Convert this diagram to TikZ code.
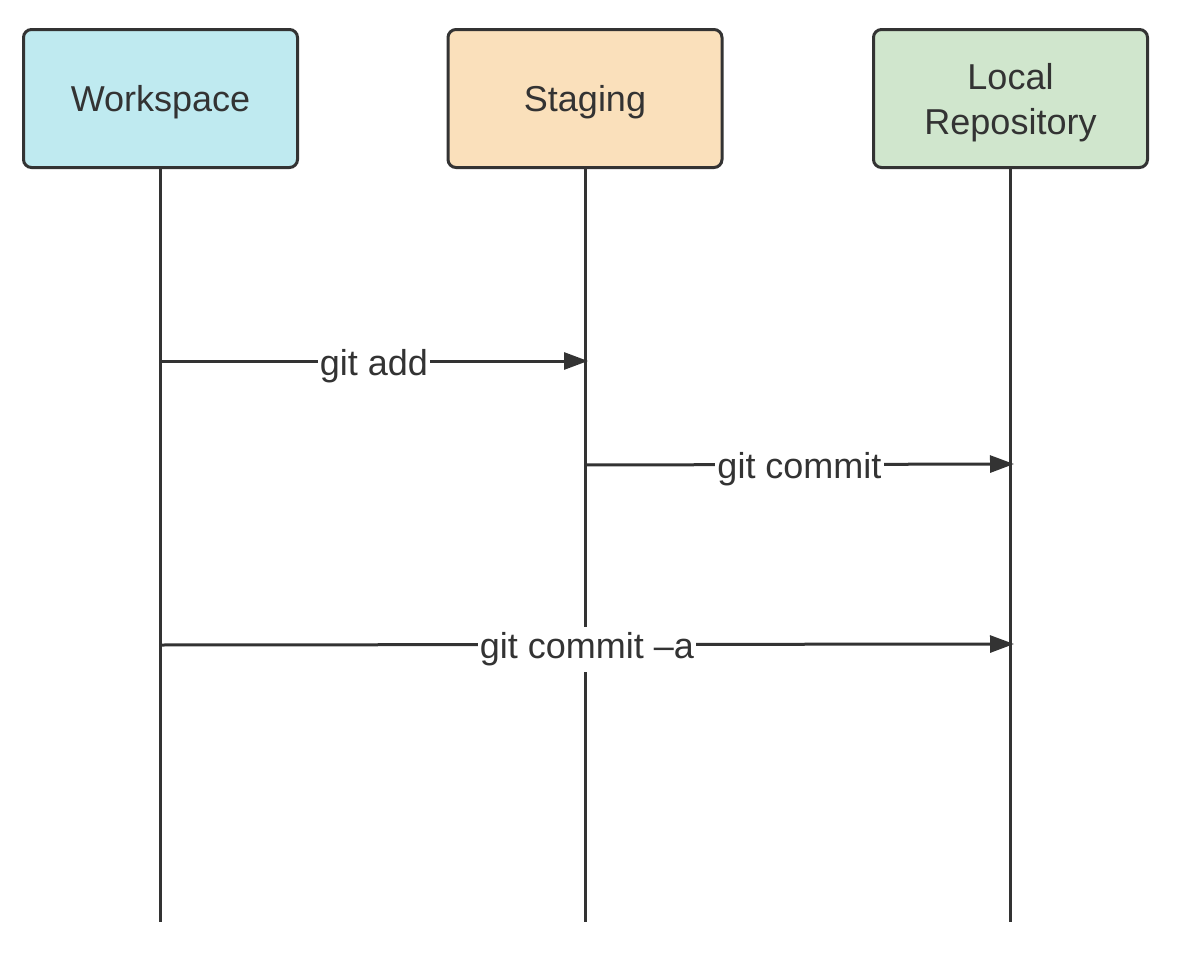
\documentclass[tikz,border=0pt]{standalone}
\usepackage{fontspec}
\setmainfont{Liberation Sans}
\usetikzlibrary{arrows.meta}
\definecolor{ink}{HTML}{333333}
\definecolor{wsblue}{HTML}{BFEAF0}
\definecolor{storange}{HTML}{FAE0BB}
\definecolor{lrgreen}{HTML}{D0E6CD}
\tikzset{
  actor/.style={draw=ink, line width=1.5pt, rounded corners=4pt, minimum width=137pt, minimum height=69pt, align=center, text=ink, font=\fontsize{18}{22.5}\selectfont, inner sep=0pt, text depth=0pt},
  lifeline/.style={draw=ink, line width=1.5pt},
  msg/.style={draw=ink, line width=1.5pt, -{Triangle[length=12pt,width=8.5pt]}},
  msglabel/.style={fill=white, text=ink, font=\fontsize{18}{22}\selectfont, inner xsep=1pt, inner ysep=3pt, yshift=-2.5pt}
}
\begin{document}
\begin{tikzpicture}[x=0.5pt,y=-0.5pt]
\useasboundingbox (0,0) rectangle (1190,958);
\node[actor, fill=wsblue] (ws) at (160.5,98.5) {Workspace};
\node[actor, fill=storange] (st) at (585,98.5) {Staging};
\node[actor, fill=lrgreen] (lr) at (1010.5,98.5) {Local\\Repository};
\coordinate (wsend) at (160,922);
\coordinate (stend) at (585,922);
\coordinate (lrend) at (1010,922);
\draw[lifeline] (ws.south -| wsend) -- (wsend);
\draw[lifeline] (st.south -| stend) -- (stend);
\draw[lifeline] (lr.south -| lrend) -- (lrend);
\coordinate (a1) at (160,361);
\coordinate (a2) at (588,361);
\coordinate (b1) at (585,465);
\coordinate (b2) at (1014,464);
\coordinate (c1) at (160,645);
\coordinate (c2) at (1014,644);
\draw[msg] (a1) -- node[msglabel] {git add} (a2);
\draw[msg] (b1) -- node[msglabel] {git commit} (b2);
\draw[msg] (c1) -- node[msglabel] {git commit \textendash a} (c2);
\end{tikzpicture}
\end{document}
